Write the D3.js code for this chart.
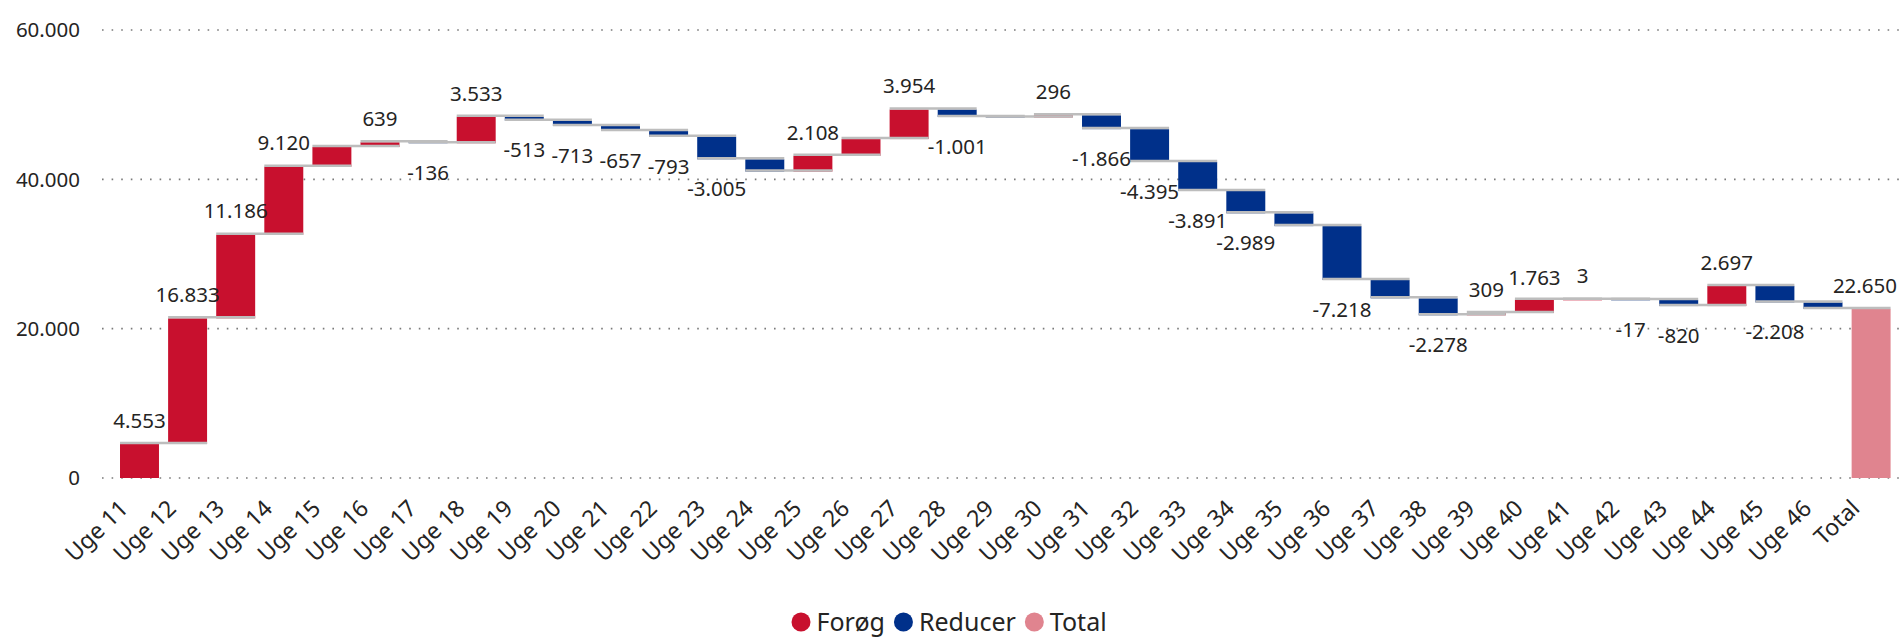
<!DOCTYPE html>
<html lang="da">

<head>
    <meta charset="UTF-8">
    <meta name="viewport" content="width=device-width, initial-scale=1.0">
    <title>Waterfall - Uge 11 til Uge 46</title>
    <style>
        html,
        body {
            background-color: #ffffff;
            margin: 0;
            overflow: hidden;
        }

        text {
            font-family: "Segoe UI", "Noto Sans", sans-serif;
            fill: #252423;
        }

        .grid line {
            stroke: #7a7a7a;
            stroke-width: 1.6;
            stroke-dasharray: 1.6 8;
        }

        .connector {
            stroke: #bdbdbd;
            stroke-width: 2.5;
        }
    </style>
</head>

<body>
    <main></main>
    <script src="https://d3js.org/d3.v7.min.js"></script>
    <script>
        // - - - - - - - - - -
        // 0. Data
        // - - - - - - - - - -
        const weeks = [
            'Uge 11', 'Uge 12', 'Uge 13', 'Uge 14', 'Uge 15', 'Uge 16', 'Uge 17', 'Uge 18', 'Uge 19',
            'Uge 20', 'Uge 21', 'Uge 22', 'Uge 23', 'Uge 24', 'Uge 25', 'Uge 26', 'Uge 27', 'Uge 28',
            'Uge 29', 'Uge 30', 'Uge 31', 'Uge 32', 'Uge 33', 'Uge 34', 'Uge 35', 'Uge 36', 'Uge 37',
            'Uge 38', 'Uge 39', 'Uge 40', 'Uge 41', 'Uge 42', 'Uge 43', 'Uge 44', 'Uge 45', 'Uge 46'
        ];
        const changes = [
            4553, 16833, 11186, 9120, 2640, 639, -136, 3533, -513,
            -713, -657, -793, -3005, -1650, 2108, 2250, 3954, -1001,
            -53, 296, -1866, -4395, -3891, -2989, -1714, -7218, -2449,
            -2278, 309, 1763, 3, -17, -820, 2697, -2208, -868
        ];
        // weeks whose data label is not shown in the reference
        const hiddenLabels = ['Uge 15', 'Uge 24', 'Uge 26', 'Uge 29', 'Uge 35', 'Uge 37', 'Uge 46'];
        const totalName = 'Total';
        const yTicks = [0, 20000, 40000, 60000];
        const legendNames = ['Forøg', 'Reducer', 'Total'];

        !(function () {
            'use strict';
            // - - - - - - - - - -
            // 1. Global declaration
            // - - - - - - - - - -
            let
                svg,
                canvas = {
                    width: 1903,
                    height: 637
                },
                plot = {
                    left: 102,
                    top: 30,
                    bottom: 478,
                    bandStart: 115.2,
                    bandEnd: 1895.4
                },
                color = {
                    'Forøg': '#c8102e',
                    'Reducer': '#00308a',
                    'Total': '#e0848f'
                },
                x, y, rows,
                locale = d3.formatLocale({
                    decimal: ',',
                    thousands: '.',
                    grouping: [3],
                    currency: ['', ' kr.'],
                    minus: '-'
                }),
                format = locale.format(',d');

            // - - - - - - - - - -
            // 2. Functions
            // - - - - - - - - - -

            /** Build the waterfall rows (start / end of each step) */
            function setRows() {
                let cum = 0;
                rows = weeks.map(function (w, i) {
                    const start = cum;
                    cum += changes[i];
                    return {
                        name: w,
                        value: changes[i],
                        start: start,
                        end: cum,
                        kind: changes[i] >= 0 ? 'Forøg' : 'Reducer'
                    };
                });
                rows.push({
                    name: totalName,
                    value: cum,
                    start: 0,
                    end: cum,
                    kind: 'Total'
                });
            }

            /** Set the svg container */
            function setSvg() {
                svg = d3.select('main')
                    .append('svg')
                    .attr('width', canvas.width)
                    .attr('height', canvas.height);
            }

            /** Scales */
            function setScales() {
                x = d3.scaleBand()
                    .domain(rows.map(function (d) { return d.name; }))
                    .range([plot.bandStart, plot.bandEnd])
                    .paddingInner(0.19)
                    .paddingOuter(0.1);

                y = d3.scaleLinear()
                    .domain([0, 60000])
                    .range([plot.bottom, plot.top]);
            }

            /** Dotted gridlines and y tick labels */
            function drawYAxis() {
                const g = svg.append('g').attr('class', 'grid');

                g.selectAll('line')
                    .data(yTicks)
                    .enter().append('line')
                    .attr('x1', plot.left)
                    .attr('x2', canvas.width)
                    .attr('y1', function (d) { return y(d); })
                    .attr('y2', function (d) { return y(d); });

                svg.append('g')
                    .selectAll('text')
                    .data(yTicks)
                    .enter().append('text')
                    .attr('x', 80)
                    .attr('y', function (d) { return y(d); })
                    .attr('dy', '0.35em')
                    .attr('text-anchor', 'end')
                    .style('font-size', '20.5px')
                    .text(function (d) { return format(d); });
            }

            /** Category labels, rotated */
            function drawXAxis() {
                svg.append('g')
                    .selectAll('text')
                    .data(rows)
                    .enter().append('text')
                    .attr('transform', function (d) {
                        const cx = x(d.name) + x.bandwidth() / 2;
                        return 'translate(' + (cx - 10) + ',' + (plot.bottom + 32) + ') rotate(-44)';
                    })
                    .attr('text-anchor', 'end')
                    .style('font-size', '23px')
                    .text(function (d) { return d.name; });
            }

            /** Bars and connectors */
            function drawBars() {
                svg.append('g')
                    .selectAll('rect')
                    .data(rows)
                    .enter().append('rect')
                    .attr('x', function (d) { return x(d.name); })
                    .attr('width', x.bandwidth())
                    .attr('y', function (d) { return y(Math.max(d.start, d.end)); })
                    .attr('height', function (d) {
                        return Math.max(0.5, Math.abs(y(d.start) - y(d.end)));
                    })
                    .style('fill', function (d) { return color[d.kind]; });

                svg.append('g')
                    .selectAll('line')
                    .data(rows.slice(0, -1))
                    .enter().append('line')
                    .attr('class', 'connector')
                    .attr('x1', function (d) { return x(d.name); })
                    .attr('x2', function (d, i) { return x(rows[i + 1].name) + x.bandwidth(); })
                    .attr('y1', function (d) { return y(d.end) - 1; })
                    .attr('y2', function (d) { return y(d.end) - 1; });
            }

            /** Data labels: above rising bars, below falling bars */
            function drawLabels() {
                const g = svg.append('g'),
                    placed = [];

                rows.forEach(function (d) {
                    if (hiddenLabels.indexOf(d.name) > -1) return;
                    const cx = x(d.name) + x.bandwidth() / 2;
                    let cy = d.value >= 0 ? y(d.end) - 23.5 : y(d.end) + 29.5;

                    const t = g.append('text')
                        .attr('text-anchor', 'middle')
                        .attr('dy', '0.35em')
                        .style('font-size', '20.5px')
                        .text(format(d.value));

                    const w = t.node().getComputedTextLength();
                    let left = cx - w / 2;
                    if (left + w > canvas.width - 6) left = canvas.width - 6 - w;

                    // simple collision check with labels already placed
                    placed.forEach(function (p) {
                        const hit = left < p.right + 6 && left + w > p.left - 6 &&
                            Math.abs(cy - p.cy) < 16;
                        if (hit) cy = p.cy - 12;
                    });

                    t.attr('x', left + w / 2).attr('y', cy);
                    placed.push({ left: left, right: left + w, cy: cy });
                });
            }

            /** Legend at the bottom */
            function drawLegend() {
                const g = svg.append('g').attr('transform', 'translate(0,622)');
                let cursor = 791.5;

                legendNames.forEach(function (name) {
                    g.append('circle')
                        .attr('cx', cursor + 9.5)
                        .attr('cy', 0)
                        .attr('r', 9.5)
                        .style('fill', color[name]);

                    const t = g.append('text')
                        .attr('x', cursor + 25)
                        .attr('y', 9)
                        .style('font-size', '25px')
                        .text(name);

                    cursor += 25 + t.node().getComputedTextLength() + 9;
                });
            }

            // - - - - - - - - - -
            // 3. Main control
            // - - - - - - - - - -
            function main() {
                setRows();
                setSvg();
                setScales();
                drawYAxis();
                drawBars();
                drawXAxis();
                drawLabels();
                drawLegend();
            }

            window.addEventListener('load', main);
        }());
    </script>
</body>

</html>
